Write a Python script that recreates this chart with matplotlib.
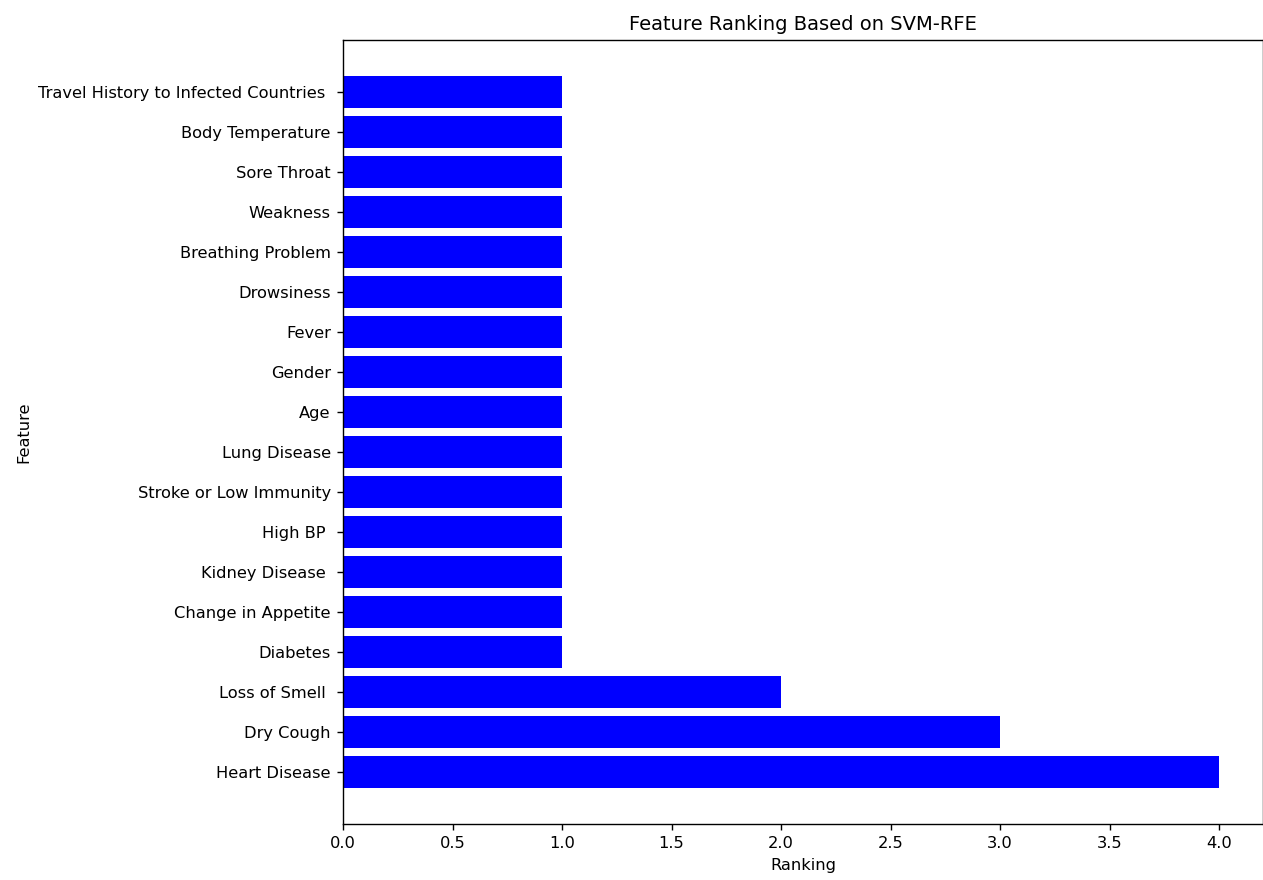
import matplotlib
matplotlib.use("Agg")
import matplotlib.pyplot as plt

# features, bottom to top as drawn
features = [
    "Heart Disease", "Dry Cough", "Loss of Smell ", "Diabetes",
    "Change in Appetite", "Kidney Disease ", "High BP ",
    "Stroke or Low Immunity", "Lung Disease", "Age", "Gender", "Fever",
    "Drowsiness", "Breathing Problem", "Weakness", "Sore Throat",
    "Body Temperature", "Travel History to Infected Countries ",
]
ranking = [4, 3, 2, 1, 1, 1, 1, 1, 1, 1, 1, 1, 1, 1, 1, 1, 1, 1]

plt.rcParams["font.size"] = 9.4

fig = plt.figure(figsize=(1263 / 125, 880 / 125), dpi=125)
ax = fig.add_axes([343 / 1263, 1 - 824 / 880, 920 / 1263, 784 / 880])

ax.barh(features, ranking, color="blue")
ax.set_xlabel("Ranking")
ax.set_ylabel("Feature")
ax.set_title("Feature Ranking Based on SVM-RFE")

fig.savefig("out.png", dpi=125)
